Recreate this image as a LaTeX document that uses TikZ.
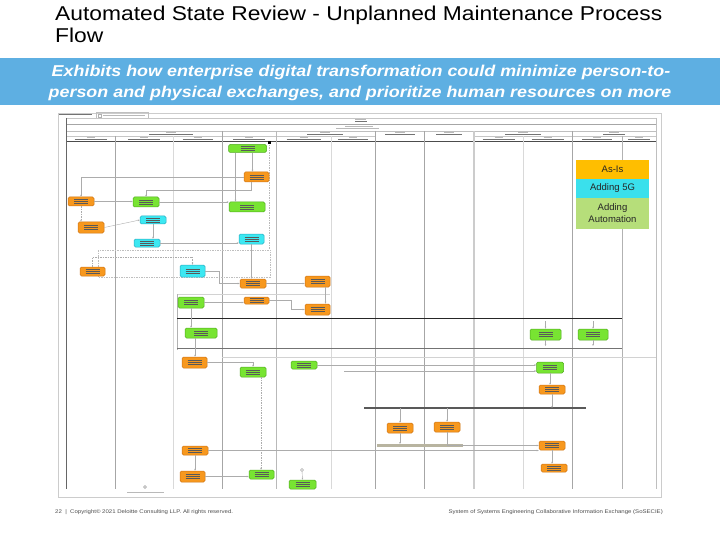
\documentclass[tikz,border=0pt]{standalone}
\usepackage{fontspec}
\setmainfont{Liberation Sans}
\newfontfamily\titlefont[FakeStretch=1.14]{Liberation Sans}
\usetikzlibrary{calc,arrows.meta}
\definecolor{bandblue}{RGB}{94,175,226}
\definecolor{orf}{RGB}{247,152,30}
\definecolor{ord}{RGB}{205,115,20}
\definecolor{grf}{RGB}{120,228,50}
\definecolor{grd}{RGB}{80,170,30}
\definecolor{cyf}{RGB}{60,232,242}
\definecolor{cyd}{RGB}{40,170,190}
\definecolor{legor}{RGB}{255,190,0}
\definecolor{legcy}{RGB}{58,224,236}
\definecolor{leggr}{RGB}{182,222,122}
\definecolor{tanbar}{RGB}{184,180,160}
\tikzset{
  txt/.style={path picture={\foreach \dy in {-2.2,0,2.2}{\draw[black!65,line width=0.55pt]
     ([xshift=-7pt,yshift=\dy pt]path picture bounding box.center) --
     ([xshift=7pt,yshift=\dy pt]path picture bounding box.center);}}},
  box/.style={rounded corners=1.5pt,line width=0.5pt,inner sep=0pt,
     minimum width=26pt,minimum height=10pt,txt},
  ob/.style={box,fill=orf,draw=ord},
  gb/.style={box,fill=grf,draw=grd},
  cb/.style={box,fill=cyf,draw=cyd},
  con/.style={draw=gray!65,line width=0.4pt,-{Stealth[length=2pt,width=1.6pt]}},
  dcon/.style={con,dash pattern=on 1.5pt off 1pt},
  mk/.style={line width=0.7pt,gray!55},
  mkd/.style={line width=0.7pt,black!55},
  leg/.style={inner sep=0pt,minimum width=73pt,align=center,font=\fontsize{9.5}{12}\selectfont,text=black!85},
  bandtxt/.style={anchor=base,inner sep=0,text=white,font=\titlefont\bfseries\itshape\fontsize{15.7}{20}\selectfont},
  foottxt/.style={inner sep=0,text=black!70,font=\titlefont\fontsize{5.3}{6}\selectfont},
}
\begin{document}
\begin{tikzpicture}[x=1pt,y=-1pt]
\useasboundingbox (0,0) rectangle (720,540);
% title
\node[anchor=base west,inner sep=0,font=\titlefont\fontsize{20}{22}\selectfont] (title1) at (55,21) {Automated State Review - Unplanned Maintenance Process};
\node[anchor=base west,inner sep=0,font=\titlefont\fontsize{20}{22}\selectfont] (title2) at (55,43) {Flow};
% band
\fill[bandblue] (0,58) rectangle (720,105);
\node[bandtxt] (band1) at (361,76.5) {Exhibits how enterprise digital transformation could minimize person-to-};
\node[bandtxt] (band2) at (360,98) {person and physical exchanges, and prioritize human resources on more};
% diagram frame
\draw[gray!40,line width=0.6pt] (58,113) rectangle (661,497);
\draw[mkd] (59,114.5) -- (92,114.5);
\draw[gray!50,line width=0.4pt] (96,112.5) rectangle (148,118);
\draw[mk] (103,115.3) -- (145,115.3);
\draw[gray!60,line width=0.4pt] (98.5,114) rectangle (101.5,117);
% header lines
\draw[gray!45,line width=0.4pt] (66,118) -- (656,118);
\draw[gray!70,line width=0.8pt] (66,124) -- (656,124);
\draw[gray!50,line width=0.4pt] (66,131) -- (656,131);
\draw[gray!45,line width=0.4pt] (66,136) -- (375,136);
\draw[gray!45,line width=0.4pt] (474,136) -- (656,136);
\draw[black!70,line width=0.9pt] (66,141) -- (656,141);
% header text marks
\draw[mk] (355,119.5) -- (366,119.5);
\draw[mkd] (355,121.6) -- (367,121.6);
\draw[mk] (345,126) -- (373,126);
\draw[mk] (336,128.4) -- (379,128.4);
\foreach \cx/\w in {171/44,325/36,400/30,449/26,523/36,614/22}{
  \draw[mk] (\cx-5,132.3) -- (\cx+5,132.3);
  \draw[mkd] (\cx-\w/2,134.4) -- (\cx+\w/2,134.4);
}
\foreach \cx/\w in {90.5/32,144/32,197.5/30,249/32,303.5/34,353/30,498.5/32,547.5/32,597/30,639/22}{
  \draw[mk] (\cx-4,137.6) -- (\cx+4,137.6);
  \draw[mkd] (\cx-\w/2,139.5) -- (\cx+\w/2,139.5);
}
% lanes
\draw[black!60,line width=0.9pt] (66,118) -- (66,489);
\draw[gray!70,line width=0.6pt] (115,136) -- (115,489);
\draw[gray!30,line width=0.5pt] (173,136) -- (173,489);
\draw[gray!70,line width=0.7pt] (222,131) -- (222,489);
\draw[gray!55,line width=0.6pt] (276,131) -- (276,489);
\draw[gray!30,line width=0.5pt] (331,136) -- (331,489);
\draw[gray!70,line width=0.8pt] (375,131) -- (375,489);
\draw[gray!70,line width=0.8pt] (424,131) -- (424,489);
\draw[gray!40,line width=1.8pt] (474,131) -- (474,489);
\draw[gray!30,line width=0.5pt] (523,136) -- (523,489);
\draw[gray!70,line width=0.8pt] (572,131) -- (572,489);
\draw[gray!60,line width=0.6pt] (622,136) -- (622,489);
\draw[gray!50,line width=0.6pt] (656,118) -- (656,489);
% section lines
\draw[gray!35,line width=0.4pt] (177,294) -- (330,294);
\draw[gray!60,line width=0.5pt] (177,294) -- (177,350);
\draw[black!85,line width=0.9pt] (177,318) -- (622,318);
\draw[black!55,line width=0.7pt] (177,348) -- (622,348);
\draw[gray!35,line width=0.4pt] (222,357) -- (656,357);
\draw[black!65,line width=1.2pt] (364,408) -- (586,408);
\fill[tanbar] (377,444) rectangle (463,447);
\draw[gray!50,dash pattern=on 1.5pt off 1pt,line width=0.4pt] (98,250) rectangle (270,277);
% start / end markers
\node[fill=black,minimum size=3pt,inner sep=0pt] (st) at (269,143) {};
\coordinate (stend) at (269,249);
\draw[gray!55,dash pattern=on 1.5pt off 1pt,line width=0.4pt] (st) -- (stend);
\node[circle,draw=gray!70,fill=gray!20,minimum size=3pt,inner sep=0pt] (en) at (145,487) {};
\draw[mk] (127,492) -- (164,492);
% boxes
\node[gb,minimum width=38pt,minimum height=8pt] (g1) at (247.5,148.5) {};
\node[ob,minimum width=25pt] (o1) at (256.5,177) {};
\node[ob,minimum height=9pt] (o2) at (81,201.5) {};
\node[gb] (g2) at (146,202) {};
\node[gb,minimum width=36pt] (g3) at (247,207) {};
\node[cb,minimum height=8pt] (c1) at (153,220) {};
\node[ob,minimum height=11pt] (o3) at (91,227.5) {};
\node[cb,minimum height=8pt] (c2) at (147,243) {};
\node[cb,minimum width=25pt] (c3) at (251.5,239) {};
\node[ob,minimum width=25pt,minimum height=9pt] (o4) at (92.5,271.5) {};
\node[cb,minimum width=25pt,minimum height=12pt] (c4) at (192.5,271) {};
\node[ob,minimum height=9pt] (o5) at (253,283.5) {};
\node[gb,minimum height=11pt] (g4) at (191,302.5) {};
\node[ob,minimum width=25pt,minimum height=7pt] (o6) at (256.5,300.5) {};
\node[ob,minimum width=25pt,minimum height=11pt] (o7) at (317.5,281.5) {};
\node[ob,minimum width=25pt,minimum height=11pt] (o8) at (317.5,309.5) {};
\node[gb,minimum width=32pt] (g5) at (201,333) {};
\node[ob,minimum width=25pt,minimum height=11pt] (o9) at (194.5,362.5) {};
\node[gb] (g6) at (253,372) {};
\node[gb,minimum height=8pt] (g7) at (304,365) {};
\node[gb,minimum width=31pt,minimum height=11pt] (g8) at (545.5,334.5) {};
\node[gb,minimum width=30pt,minimum height=11pt] (g9) at (593,334.5) {};
\node[gb,minimum width=27pt,minimum height=11pt] (g10) at (550,367.5) {};
\node[ob,minimum height=9pt] (o10) at (552,389.5) {};
\node[ob] (o11) at (400,428) {};
\node[ob] (o12) at (447,427) {};
\node[ob,minimum height=9pt] (o13) at (552,445.5) {};
\node[ob,minimum height=8pt] (o14) at (554,468) {};
\node[ob,minimum height=9pt] (o15) at (195,450.5) {};
\node[ob,minimum width=25pt,minimum height=11pt] (o16) at (192.5,476.5) {};
\node[gb,minimum width=25pt,minimum height=9pt] (g11) at (261.5,474.5) {};
\node[gb,minimum width=27pt,minimum height=9pt] (g12) at (302.5,484.5) {};
% connectors
\draw[con] ([xshift=-12pt]g1.south) -- ([xshift=-12pt]g1.south |- g3.north);
\draw[con] ([xshift=-4pt]o1.north |- g1.south) -- ([xshift=-4pt]o1.north);
\draw[con] (o1.west) -| (o2.north);
\draw[con] ([xshift=-5pt]o1.south) |- ([yshift=7pt]g2.north) -- (g2.north);
\draw[con] (o2.east) -- (o2.east -| g2.west);
\draw[con] (g2.east) -- (g2.east -| g3.west);
\draw[dcon] (o2.south) -- (o2.south |- o3.north);
\draw[con] (o3.east) -- (c1.west);
\draw[con] (c1.south) -- (c1.south |- c2.north);
\draw[con] (c2.east) -- (c2.east -| c3.west);
\draw[con] (c3.south) -- (c3.south |- o5.north);
\draw[con] (c4.east) -- ++(14,0) |- (o5.west);
\draw[dcon] (o4.north) -- ++(0,-10) -| (c4.north);
\draw[con] (o5.east) -- (o5.east -| o7.west);
\draw[con] (g4.east) -- (g4.east -| o6.west);
\draw[con] (o6.east) -- ++(22,0) |- (o8.west);
\draw[con] ([xshift=8pt]o7.south) -- ([xshift=8pt]o7.south |- o8.north);
\draw[con] (g4.south) -- (g4.south |- g5.north);
\draw[con] ([xshift=-6pt]g5.south) -- ([xshift=-6pt]g5.south |- o9.north);
\draw[con] (o9.east) -| (g6.north);
\draw[dcon] ([xshift=8pt]g6.south) -- ([xshift=8pt]g6.south |- g11.north);
\draw[con] (g7.east) -- (g7.east -| g10.west);
\coordinate (l371) at (344,371);
\draw[con] (l371) -- (l371 -| g10.west);
\draw[con] (g10.south) -- (g10.south |- o10.north);
\coordinate (o10t) at (552,408);
\draw[con] (o10.south) -- (o10t);
\coordinate (o11a) at (400,408);
\coordinate (o11b) at (400,444);
\draw[con] (o11a) -- (o11.north);
\draw[con] (o11.south) -- (o11b);
\coordinate (o12a) at (447,408);
\draw[con] (o12a) -- (o12.north);
\draw[con] (o12.south) |- (o13.west);
\draw[con] (o15.east) -- (o15.east -| o13.west);
\draw[con] (o13.south) -- (o13.south |- o14.north);
\draw[con] (o15.south) -- (o15.south |- o16.north);
\draw[con] (o16.east) -- (o16.east -| g11.west);
\coordinate (g8a) at (545.5,321);
\coordinate (g8b) at (545.5,346);
\coordinate (g9a) at (593,321);
\coordinate (g9b) at (593,346);
\draw[con] (g8a) -- (g8.north);
\draw[con] (g8.south) -- (g8b);
\draw[con] (g9a) -- (g9.north);
\draw[con] (g9.south) -- (g9b);
\node[circle,draw=gray!70,minimum size=3pt,inner sep=0pt] (g12m) at (302,470) {};
\draw[con] (g12m) -- (g12.north);
% legend
\node[leg,fill=legor,minimum height=19pt] (lg1) at (612.5,169.5) {As-Is};
\node[leg,fill=legcy,minimum height=19pt] (lg2) at (612.5,188.5) {Adding 5G};
\node[leg,fill=leggr,minimum height=31pt] (lg3) at (612.5,213.5) {Adding\\Automation};
% footer
\node[foottxt,anchor=base west] (foot1) at (55,513) {22 \ | \ Copyright© 2021 Deloitte Consulting LLP. All rights reserved.};
\node[foottxt,anchor=base east] (foot2) at (663,513) {System of Systems Engineering Collaborative Information Exchange (SoSECIE)};
\end{tikzpicture}
\end{document}
